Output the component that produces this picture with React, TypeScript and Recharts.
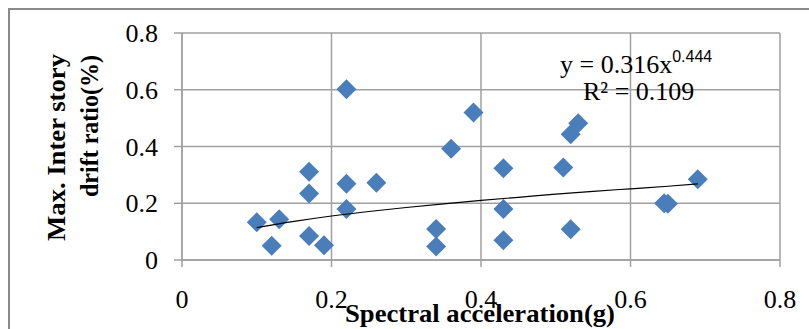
import React from "react";
import { ScatterChart, Scatter, XAxis, YAxis, CartesianGrid, Customized } from "recharts";

// spectral acceleration (g) and max inter-story drift ratio (%) per record
const sa = [0.1, 0.12, 0.13, 0.17, 0.17, 0.17, 0.19, 0.22, 0.22, 0.22, 0.26, 0.34, 0.34, 0.36, 0.39, 0.43, 0.43, 0.43, 0.51, 0.52, 0.52, 0.53, 0.645, 0.65, 0.69];
const drift = [0.133, 0.05, 0.144, 0.311, 0.234, 0.085, 0.052, 0.602, 0.269, 0.18, 0.272, 0.109, 0.048, 0.392, 0.52, 0.323, 0.18, 0.07, 0.326, 0.108, 0.443, 0.482, 0.2, 0.198, 0.285];

// power trendline
const trendX = [0.1, 0.15, 0.2, 0.25, 0.3, 0.35, 0.4, 0.45, 0.5, 0.55, 0.6, 0.65, 0.69];
const trendY = [0.114, 0.136, 0.155, 0.171, 0.185, 0.198, 0.21, 0.221, 0.232, 0.242, 0.251, 0.26, 0.268];

const ticks = [0, 0.2, 0.4, 0.6, 0.8];
const xTitle = "Spectral acceleration(g)";
const yTitle = ["Max. Inter story", "drift ratio(%)"];
const eqText = "y = 0.316x";
const eqExp = "0.444";
const r2Text = "R\u00b2 = 0.109";

const points = sa.map((x, i) => ({ x, y: drift[i] }));
const trend = trendX.map((x, i) => ({ x, y: trendY[i] }));

const serif = "'Liberation Serif', 'Times New Roman', serif";

function Diamond(props: any) {
  const { cx, cy } = props;
  const r = 10;
  return <polygon points={`${cx},${cy - r} ${cx + r},${cy} ${cx},${cy + r} ${cx - r},${cy}`} fill="#4a7ebb" />;
}

function YTitle() {
  return (
    <g fontFamily={serif} fontWeight="bold" fontSize={26} fill="#000">
      <text transform="rotate(-90)" x={-54} y={65} textAnchor="end" textLength={187} lengthAdjust="spacingAndGlyphs">
        {yTitle[0]}
      </text>
      <text transform="rotate(-90)" x={-55} y={98} textAnchor="end" textLength={142} lengthAdjust="spacingAndGlyphs">
        {yTitle[1]}
      </text>
    </g>
  );
}

function Annotations() {
  return (
    <g fill="#000">
      <text x={480} y={322} textAnchor="middle" fontFamily={serif} fontWeight="bold" fontSize={26} textLength={270} lengthAdjust="spacingAndGlyphs">
        {xTitle}
      </text>
      <text x={560} y={73} fontFamily={serif} fontSize={26}>
        {eqText}
        <tspan fontFamily="'Liberation Sans', Arial, sans-serif" fontSize={16} dy={-11}>{eqExp}</tspan>
      </text>
      <text x={583} y={100} fontFamily={serif} fontSize={26}>
        {r2Text}
      </text>
      <YTitle />
    </g>
  );
}

export default function App() {
  return (
    <div style={{ position: "absolute", left: 0, top: 0, width: 809, height: 329, background: "#fff", overflow: "hidden" }}>
      <div style={{ position: "absolute", left: 8, top: 8, width: 820, height: 340, borderTop: "2px solid #8a8a8a", borderLeft: "2px solid #8a8a8a" }} />
      <div style={{ position: "absolute", left: 0, top: 0 }}>
        <ScatterChart width={809} height={329} margin={{ top: 33, right: 29, left: 122, bottom: 29 }}>
          <CartesianGrid stroke="#a0a0a0" strokeWidth={1.5} />
          <XAxis
            type="number"
            dataKey="x"
            domain={[0, 0.8]}
            ticks={ticks}
            height={40}
            tickSize={7}
            tickMargin={23}
            stroke="#a0a0a0"
            strokeWidth={1.5}
            tick={{ fill: "#000", fontSize: 26, fontFamily: serif }}
            tickFormatter={(v: number) => String(v)}
          />
          <YAxis
            type="number"
            dataKey="y"
            domain={[0, 0.8]}
            ticks={ticks}
            width={60}
            tickSize={8}
            tickMargin={16}
            stroke="#a0a0a0"
            strokeWidth={1.5}
            tick={{ fill: "#000", fontSize: 26, fontFamily: serif }}
            tickFormatter={(v: number) => String(v)}
          />
          <Scatter data={points} shape={<Diamond />} isAnimationActive={false} />
          <Scatter
            data={trend}
            line={{ stroke: "#000", strokeWidth: 1.2 }}
            lineJointType="monotoneX"
            shape={() => <g />}
            isAnimationActive={false}
          />
          <Customized component={Annotations} />
        </ScatterChart>
      </div>
    </div>
  );
}
